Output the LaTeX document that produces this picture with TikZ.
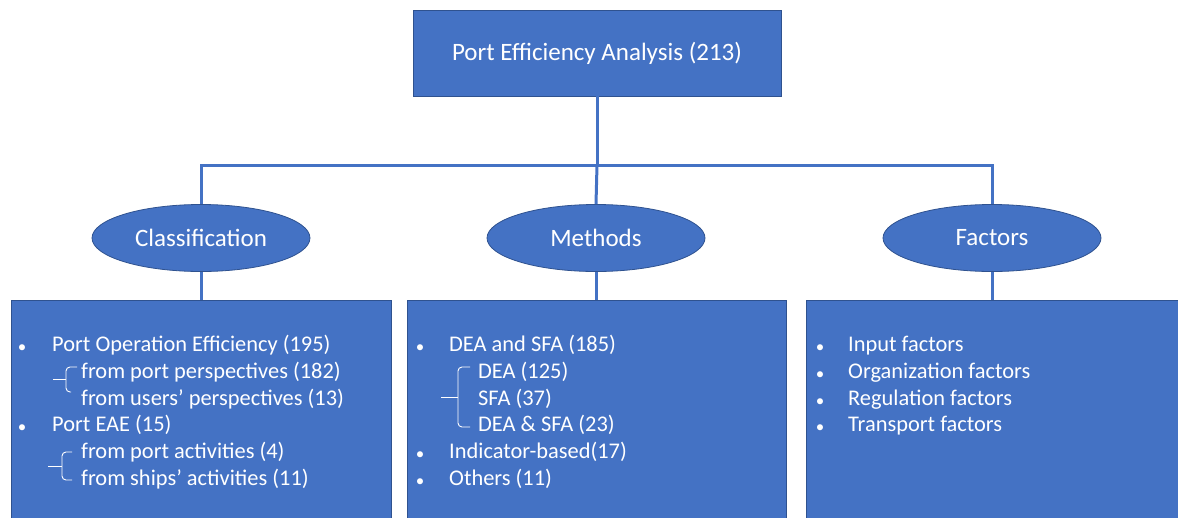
\documentclass[tikz,border=0pt]{standalone}
\usepackage{fontspec}
\setmainfont{Carlito}
\usetikzlibrary{shapes.geometric}
\definecolor{fillblue}{HTML}{4472C4}
\definecolor{edgeblue}{HTML}{2F528F}
\begin{document}
\begin{tikzpicture}[x=1pt,y=-1pt,
  boxstyle/.style={draw=edgeblue,line width=0.8pt,fill=fillblue,rectangle,inner sep=0pt},
  ellstyle/.style={draw=edgeblue,line width=0.8pt,fill=fillblue,ellipse,minimum width=218pt,minimum height=67pt,inner sep=0pt,text=white,font=\fontsize{25}{30}\selectfont},
  conn/.style={draw=fillblue,line width=3pt},
  itemtxt/.style={anchor=west,text=white,inner sep=0pt,yshift=-4pt,font=\fontsize{22.4}{26}\selectfont,text height=0.72em,text depth=0.22em},
  bul/.style={anchor=center,text=white,inner sep=0pt,yshift=-4pt,font=\fontsize{17}{20}\selectfont},
  brace/.style={draw=white,line width=0.9pt,rounded corners=4pt}
]
\useasboundingbox (0,0) rectangle (1178,517);
\clip (0,0) rectangle (1178,517);
% top box
\node[boxstyle,minimum width=368pt,minimum height=86pt,text=white,font=\fontsize{25}{30}\selectfont] (top) at (597,53) {\raisebox{-2pt}{Port Efficiency Analysis (213)}};
% ellipses
\node[ellstyle] (cls) at (201,238) {Classification};
\node[ellstyle] (met) at (596,238) {Methods};
\node[ellstyle] (fac) at (992,238) {Factors};
% boxes
\node[boxstyle,minimum width=380pt,minimum height=240pt,anchor=north west] (clsbox) at (11,300) {};
\node[boxstyle,minimum width=379pt,minimum height=240pt,anchor=north west] (metbox) at (407,300) {};
\node[boxstyle,minimum width=380pt,minimum height=240pt,anchor=north west] (facbox) at (806,300) {};
% connectors
\coordinate (j) at (597,165);
\draw[conn] (top.south) -- (j);
\draw[conn] (cls.north) |- (j) -| (fac.north);
\draw[conn] (j) -- (met.north);
\draw[conn] (cls.south) -- (cls.south |- clsbox.north);
\draw[conn] (met.south) -- (met.south |- metbox.north);
\draw[conn] (fac.south) -- (fac.south |- facbox.north);
% left box text
\node[bul] (b1) at (22,345) {•};
\node[itemtxt] (t1) at (52,345) {Port Operation Efficiency (195)};
\node[itemtxt] (t2) at (81,372) {from port perspectives (182)};
\node[itemtxt] (t3) at (81,399) {from users’ perspectives (13)};
\node[bul] (b2) at (22,425) {•};
\node[itemtxt] (t4) at (52,425) {Port EAE (15)};
\node[itemtxt] (t5) at (81,452) {from port activities (4)};
\node[itemtxt] (t6) at (81,479) {from ships’ activities (11)};
\draw[brace] (53,379) -- (66,379);
\draw[brace] (77,367) -- (66,367) -- (66,392) -- (71,392);
\draw[brace] (48,466) -- (62,466);
\draw[brace] (72,452) -- (62,452) -- (62,480) -- (72,480);
% middle box text
\node[bul] (b3) at (420,345) {•};
\node[itemtxt] (m1) at (449,345) {DEA and SFA (185)};
\node[itemtxt] (m2) at (478,372) {DEA (125)};
\node[itemtxt] (m3) at (478,399) {SFA (37)};
\node[itemtxt] (m4) at (478,425) {DEA \& SFA (23)};
\node[bul] (b4) at (420,452) {•};
\node[itemtxt] (m5) at (449,452) {Indicator-based(17)};
\node[bul] (b5) at (420,479) {•};
\node[itemtxt] (m6) at (449,479) {Others (11)};
\draw[brace] (441,397) -- (458,397);
\draw[brace] (470,367) -- (458,367) -- (458,427) -- (470,427);
% right box text
\node[bul] (b6) at (820,345) {•};
\node[itemtxt] (f1) at (848,345) {Input factors};
\node[bul] (b7) at (820,372) {•};
\node[itemtxt] (f2) at (848,372) {Organization factors};
\node[bul] (b8) at (820,399) {•};
\node[itemtxt] (f3) at (848,399) {Regulation factors};
\node[bul] (b9) at (820,425) {•};
\node[itemtxt] (f4) at (848,425) {Transport factors};
\end{tikzpicture}
\end{document}
